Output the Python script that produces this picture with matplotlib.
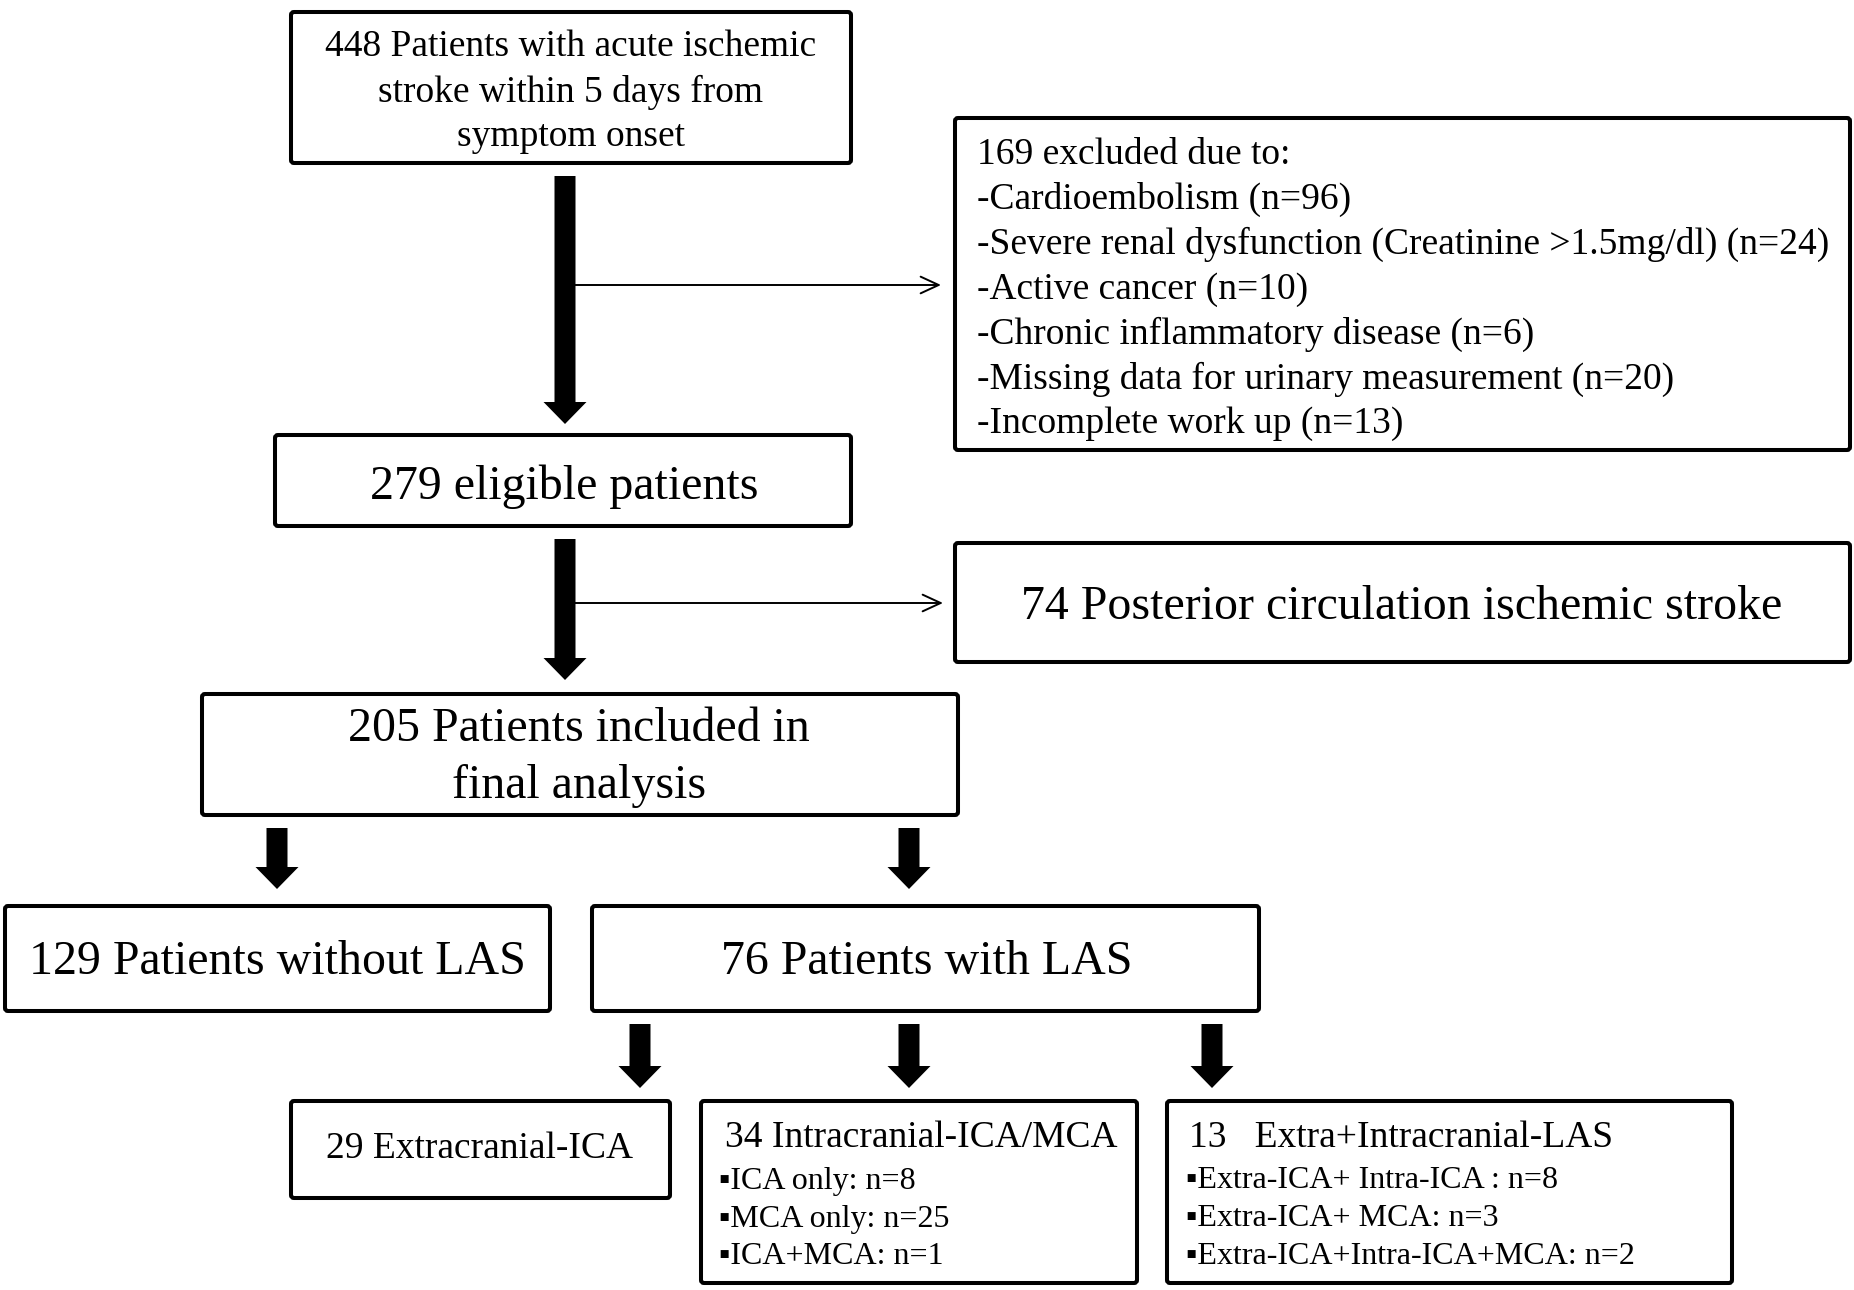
import matplotlib.pyplot as plt
from matplotlib.patches import FancyBboxPatch, FancyArrow

plt.rcParams['font.family'] = ['Liberation Serif', 'DejaVu Sans']

# box texts
top_lines = ['448 Patients with acute ischemic', 'stroke within 5 days from', 'symptom onset']
excl_lines = ['169 excluded due to:',
              '-Cardioembolism (n=96)',
              '-Severe renal dysfunction (Creatinine >1.5mg/dl) (n=24)',
              '-Active cancer (n=10)',
              '-Chronic inflammatory disease (n=6)',
              '-Missing data for urinary measurement (n=20)',
              '-Incomplete work up (n=13)']
eligible_text = '279 eligible patients'
posterior_text = '74 Posterior circulation ischemic stroke'
included_lines = ['205 Patients included in', 'final analysis']
without_las = '129 Patients without LAS'
with_las = '76 Patients with LAS'
extra_text = '29 Extracranial-ICA'
intra_title = '34 Intracranial-ICA/MCA'
intra_items = ['ICA only: n=8', 'MCA only: n=25', 'ICA+MCA: n=1']
both_title = '13   Extra+Intracranial-LAS'
both_items = ['Extra-ICA+ Intra-ICA : n=8', 'Extra-ICA+ MCA: n=3', 'Extra-ICA+Intra-ICA+MCA: n=2']

W, H = 1854, 1290
fig = plt.figure(figsize=(W / 100, H / 100), dpi=100)
ax = fig.add_axes([0, 0, 1, 1])
ax.set_xlim(0, W)
ax.set_ylim(H, 0)
ax.axis('off')


def box(x0, y0, x1, y1):
    ax.add_patch(FancyBboxPatch((x0, y0), x1 - x0, y1 - y0, boxstyle='round,pad=0,rounding_size=3',
                                fc='white', ec='black', lw=2.9))


def thick(x, y0, y1):
    ax.add_patch(FancyArrow(x, y0, 0, y1 - y0, width=21, head_width=43, head_length=22,
                            length_includes_head=True, fc='black', ec='none'))


def thin(x0, x1, y):
    ax.annotate('', xy=(x1, y), xytext=(x0, y),
                arrowprops=dict(arrowstyle='->,head_length=1.3,head_width=0.6', lw=1.4, color='black',
                                shrinkA=0, shrinkB=0))


box(291, 12, 851, 163)
box(955, 118, 1850, 450)
box(275, 435, 851, 526)
box(955, 543, 1850, 662)
box(202, 694, 958, 815)
box(5, 906, 550, 1011)
box(592, 906, 1259, 1011)
box(291, 1101, 670, 1198)
box(701, 1101, 1137, 1283)
box(1167, 1101, 1732, 1283)

thick(565, 176, 424)
thin(574, 941, 285)
thick(565, 539, 680)
thin(574, 943, 603)
thick(277, 828, 889)
thick(909, 828, 889)
thick(640, 1024, 1088)
thick(909, 1024, 1088)
thick(1212, 1024, 1088)

fs_small = 27
for i, t in enumerate(top_lines):
    ax.text(571, 47 + 45 * i, t, fontsize=fs_small, ha='center', va='center')
for i, t in enumerate(excl_lines):
    ax.text(977, 155 + 44.8 * i, t, fontsize=fs_small, ha='left', va='center')

fs_big = 34.5
ax.text(564, 487, eligible_text, fontsize=fs_big, ha='center', va='center')
ax.text(1402, 607, posterior_text, fontsize=fs_big, ha='center', va='center')
for i, t in enumerate(included_lines):
    ax.text(579, 729 + 57 * i, t, fontsize=fs_big, ha='center', va='center')
ax.text(277, 962, without_las, fontsize=fs_big, ha='center', va='center')
ax.text(927, 962, with_las, fontsize=fs_big, ha='center', va='center')

ax.text(480, 1149, extra_text, fontsize=27, ha='center', va='center')
ax.text(725, 1138, intra_title, fontsize=27, ha='left', va='center')
for i, t in enumerate(intra_items):
    ax.text(719, 1181 + 38 * i, '\u25aa' + t, fontsize=23, ha='left', va='center')
ax.text(1189, 1138, both_title, fontsize=27, ha='left', va='center')
for i, t in enumerate(both_items):
    ax.text(1186, 1181 + 38 * i, '\u25aa' + t, fontsize=23, ha='left', va='center')

fig.savefig('out.png', dpi=100)
